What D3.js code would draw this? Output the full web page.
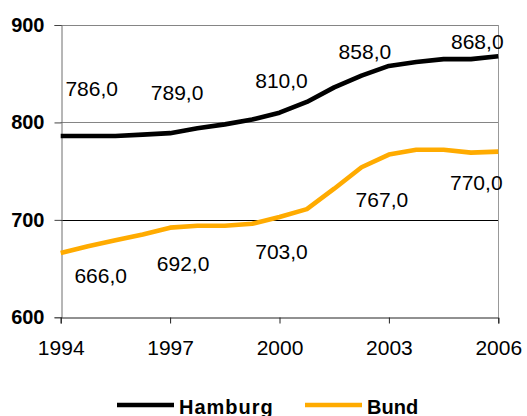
<!DOCTYPE html>
<html>
<head>
<meta charset="utf-8">
<script src="https://cdn.jsdelivr.net/npm/d3@7"></script>
<style>
  body { margin: 0; background: #fff; }
  text { font-family: "Liberation Sans", Arial, sans-serif; fill: #000; }
</style>
</head>
<body>
<div id="chart"></div>
<script>

// x positions of the points (17 steps, ticks every 4th)
const years = [1994, 1994.75, 1995.5, 1996.25, 1997, 1997.75, 1998.5, 1999.25, 2000,
               2000.75, 2001.5, 2002.25, 2003, 2003.75, 2004.5, 2005.25, 2006];

const hamburg = [786, 786, 786, 787.5, 789, 794, 798, 803, 810,
                 821, 836, 848, 858, 862, 865, 865, 868];

const bund = [666, 673, 679, 685, 692, 694, 694, 696, 703,
              711, 732, 754, 767, 772, 772, 769, 770];

// points that carry a value label
const labelIdx = [0, 4, 8, 12, 16];

const xTicks = [1994, 1997, 2000, 2003, 2006];
const yTicks = [600, 700, 800, 900];

const seriesNames = ["Hamburg", "Bund"];
const seriesColors = ["#000000", "#FFAB00"];

var width = 527;
var height = 416;

var svg = d3.select("#chart")
    .append("svg")
    .attr("width", width)
    .attr("height", height);

svg.append("rect")
    .attr("width", width)
    .attr("height", height)
    .attr("fill", "#fff");

/*
SCALES
*/
var xScale = d3.scaleLinear().domain([1994, 2006]).range([60.7, 498.3]);
var yScale = d3.scaleLinear().domain([600, 900]).range([317.3, 25]);

// grid lines (800/900 look grey, 700 black in the original)
svg.append("g")
    .selectAll("line")
    .data(yTicks.filter(d => d > 600))
    .join("line")
    .attr("x1", xScale(1994))
    .attr("x2", xScale(2006))
    .attr("y1", d => Math.round(yScale(d)) + 0.5)
    .attr("y2", d => Math.round(yScale(d)) + 0.5)
    .attr("stroke", d => d === 700 ? "#000" : "#858585")
    .attr("stroke-width", 1);

// right border of plot area
svg.append("line")
    .attr("x1", Math.round(xScale(2006)) + 0.5)
    .attr("x2", Math.round(xScale(2006)) + 0.5)
    .attr("y1", yScale(900))
    .attr("y2", yScale(600))
    .attr("stroke", "#999");

/*
AXES
*/
const yAxis = svg.append("g")
    .attr("transform", `translate(${Math.round(xScale(1994)) + 0.5},0)`)
    .call(d3.axisLeft(yScale).tickValues(yTicks).tickSize(7).tickPadding(10).tickFormat(d3.format("d")));
yAxis.select(".domain").attr("stroke", "#6e6e6e");
yAxis.selectAll(".tick line").attr("stroke", "#444");
yAxis.selectAll("text")
    .attr("font-size", "20px")
    .attr("font-weight", "bold")
    .attr("font-family", "'Liberation Sans', Arial, sans-serif");

const xAxis = svg.append("g")
    .attr("transform", `translate(0,${Math.round(yScale(600)) + 0.5})`)
    .call(d3.axisBottom(xScale).tickValues(xTicks).tickSize(6).tickPadding(16.5).tickFormat(d3.format("d")));
xAxis.select(".domain").attr("stroke", "#222");
xAxis.selectAll(".tick line").attr("stroke", "#222");
xAxis.selectAll("text")
    .attr("font-size", "21px")
    .attr("font-family", "'Liberation Sans', Arial, sans-serif");

/*
LINES
*/
var line = d3.line()
    .x((d, i) => xScale(years[i]))
    .y(d => yScale(d));

[hamburg, bund].forEach(function (vals, s) {
    svg.append("path")
        .datum(vals)
        .attr("d", line)
        .attr("fill", "none")
        .attr("stroke", seriesColors[s])
        .attr("stroke-width", 4.6)
        .attr("stroke-linejoin", "round");
});

/*
VALUE LABELS
offsets from the data point, as placed in the original
*/
var hamburgOffsets = [[31, -40], [7, -33], [2, -25], [-24, -7], [-21, -7]];
var bundOffsets = [[40, 30], [13, 43], [2, 42], [-7, 52], [-22, 38]];

function drawLabels(vals, offsets) {
    svg.append("g")
        .selectAll("text")
        .data(labelIdx)
        .join("text")
        .attr("x", (d, i) => xScale(years[d]) + offsets[i][0])
        .attr("y", (d, i) => yScale(vals[d]) + offsets[i][1])
        .attr("text-anchor", "middle")
        .attr("font-size", "21px")
        .text(d => d3.format(".1f")(vals[d]).replace(".", ","));
}
drawLabels(hamburg, hamburgOffsets);
drawLabels(bund, bundOffsets);

/*
LEGEND
*/
var legend = svg.append("g").attr("transform", "translate(117,405)");
var legendX = [0, 188];
seriesNames.forEach(function (name, i) {
    var g = legend.append("g").attr("transform", `translate(${legendX[i]},0)`);
    g.append("line")
        .attr("x1", 0)
        .attr("x2", 57)
        .attr("stroke", seriesColors[i])
        .attr("stroke-width", 4.6);
    g.append("text")
        .attr("x", 62)
        .attr("y", 8.5)
        .attr("font-size", "20px")
        .attr("font-weight", "bold")
        .attr("letter-spacing", i === 0 ? "1px" : "0px")
        .text(name);
});

</script>
</body>
</html>
